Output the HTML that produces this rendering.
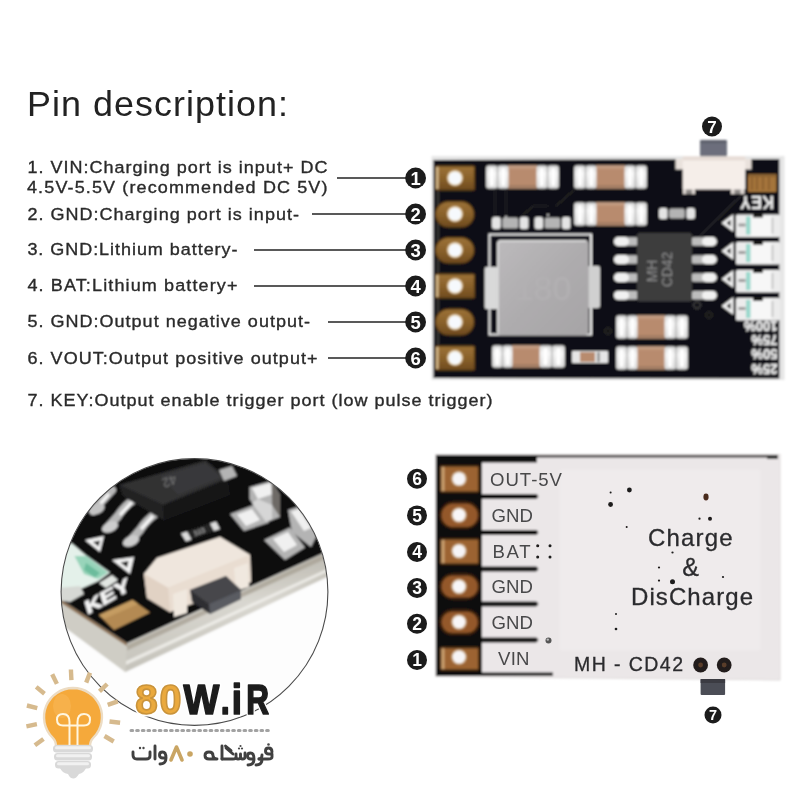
<!DOCTYPE html>
<html><head><meta charset="utf-8"><title>Pin description</title>
<style>
html,body{margin:0;padding:0;background:#fff;}
body{width:800px;height:800px;overflow:hidden;font-family:"Liberation Sans",sans-serif;}
svg{display:block;}
text{font-family:"Liberation Sans",sans-serif;}
</style></head><body>
<svg width="800" height="800" viewBox="0 0 800 800">
<defs>
<filter id="b1" x="-5%" y="-5%" width="110%" height="110%"><feGaussianBlur stdDeviation="0.85"/></filter>
<filter id="b05" x="-5%" y="-5%" width="110%" height="110%"><feGaussianBlur stdDeviation="0.45"/></filter>
<filter id="b2" x="-5%" y="-5%" width="110%" height="110%"><feGaussianBlur stdDeviation="1.4"/></filter>
<linearGradient id="gInd" x1="0" y1="0" x2="1" y2="1">
<stop offset="0" stop-color="#bcbabc"/><stop offset="0.5" stop-color="#aeacae"/><stop offset="1" stop-color="#a6a4a6"/>
</linearGradient>
<linearGradient id="gPad" x1="0" y1="0" x2="0" y2="1">
<stop offset="0" stop-color="#9c7238"/><stop offset="0.5" stop-color="#8a622b"/><stop offset="1" stop-color="#6f4a1f"/>
</linearGradient>
<linearGradient id="gSil" x1="0" y1="0" x2="0" y2="1">
<stop offset="0" stop-color="#d8d8d8"/><stop offset="0.35" stop-color="#f4f4f4"/><stop offset="1" stop-color="#dcdcdc"/>
</linearGradient>
</defs>
<rect width="800" height="800" fill="#fff"/>

<!-- TEXT -->
<g id="txt" fill="#2a2a2a" filter="url(#b05)">
<text transform="translate(27,116) scale(1.04,1)" font-size="34.5" textLength="251" lengthAdjust="spacing" fill="#222">Pin description:</text>
<g font-size="17" stroke="#2a2a2a" stroke-width="0.35">
<text transform="translate(27.4,173) scale(1.06,1)" textLength="283.1" lengthAdjust="spacing">1. VIN:Charging port is input+ DC</text>
<text transform="translate(27,193) scale(1.06,1)" textLength="283.5" lengthAdjust="spacing">4.5V-5.5V (recommended DC 5V)</text>
<text transform="translate(27.4,219.5) scale(1.06,1)" textLength="256.2" lengthAdjust="spacing">2. GND:Charging port is input-</text>
<text transform="translate(27.4,255) scale(1.06,1)" textLength="198.2" lengthAdjust="spacing">3. GND:Lithium battery-</text>
<text transform="translate(27.4,291) scale(1.06,1)" textLength="198.2" lengthAdjust="spacing">4. BAT:Lithium battery+</text>
<text transform="translate(27.4,327.3) scale(1.06,1)" textLength="266.6" lengthAdjust="spacing">5. GND:Output negative output-</text>
<text transform="translate(27.4,363.5) scale(1.06,1)" textLength="273.7" lengthAdjust="spacing">6. VOUT:Output positive output+</text>
<text transform="translate(27.4,405.8) scale(1.06,1)" textLength="438.8" lengthAdjust="spacing">7. KEY:Output enable trigger port (low pulse trigger)</text>
</g>
</g>

<!-- LEADER LINES -->
<g id="lines" stroke="#222" stroke-width="1.6" filter="url(#b05)">
<line x1="337" y1="178" x2="410" y2="178"/>
<line x1="312" y1="214" x2="410" y2="214"/>
<line x1="254" y1="250" x2="410" y2="250"/>
<line x1="254" y1="286" x2="410" y2="286"/>
<line x1="328" y1="322" x2="410" y2="322"/>
<line x1="328" y1="358" x2="410" y2="358"/>
</g>

<g id="nums1" filter="url(#b05)">
<circle cx="415.6" cy="178" r="10.4" fill="#1a1a1a"/><text x="415.6" y="184.7" font-size="18.5" font-weight="bold" fill="#fff" text-anchor="middle">1</text>
<circle cx="415.6" cy="214" r="10.4" fill="#1a1a1a"/><text x="415.6" y="220.7" font-size="18.5" font-weight="bold" fill="#fff" text-anchor="middle">2</text>
<circle cx="415.6" cy="250" r="10.4" fill="#1a1a1a"/><text x="415.6" y="256.7" font-size="18.5" font-weight="bold" fill="#fff" text-anchor="middle">3</text>
<circle cx="415.6" cy="286" r="10.4" fill="#1a1a1a"/><text x="415.6" y="292.7" font-size="18.5" font-weight="bold" fill="#fff" text-anchor="middle">4</text>
<circle cx="415.6" cy="322" r="10.4" fill="#1a1a1a"/><text x="415.6" y="328.7" font-size="18.5" font-weight="bold" fill="#fff" text-anchor="middle">5</text>
<circle cx="415.6" cy="358" r="10.4" fill="#1a1a1a"/><text x="415.6" y="364.7" font-size="18.5" font-weight="bold" fill="#fff" text-anchor="middle">6</text>
<circle cx="712" cy="126.5" r="10" fill="#1a1a1a"/><text x="712" y="132.6" font-size="17" font-weight="bold" fill="#fff" text-anchor="middle">7</text>
</g>

<g id="board1" filter="url(#b1)">
<rect x="431.5" y="156" width="353" height="224" fill="#e6e6e6"/>
<path d="M433.5 160 L779.3 159 V378.6 L433.5 378 Z" fill="#111114"/>
<g stroke="#2b2b2e" stroke-width="1.2" fill="none">
<path d="M495 189 V217 M506 189 V217"/>
<path d="M522 216 L533 206 H548 M556 206 L574 190"/>
<path d="M700 236 L745 192 M690 246 L736 200"/>
<path d="M438 190 V346" stroke="#55524c"/>
</g>
<g fill="none" stroke="#333" stroke-width="1"><circle cx="608" cy="331" r="3"/><circle cx="697" cy="305" r="3.5" stroke="#555"/><circle cx="709" cy="315" r="3"/></g>
<g fill="#bbb"><circle cx="506" cy="217" r="1.2"/><circle cx="548" cy="215" r="1.2"/><circle cx="603" cy="206" r="1"/></g>
<rect x="435.5" y="166" width="39" height="24" rx="1.5" fill="url(#gPad)" stroke="#5a3c18" stroke-width="1.4"/><rect x="436.0" y="167" width="2.6" height="22" fill="#cfb486"/><circle cx="455" cy="178" r="8" fill="#dcc092"/><circle cx="455" cy="178" r="6.6" fill="#f6f9fd"/>
<rect x="435.5" y="201.5" width="38.5" height="25.5" rx="12.75" fill="url(#gPad)" stroke="#5a3c18" stroke-width="1.4"/><circle cx="455" cy="214" r="8" fill="#dcc092"/><circle cx="455" cy="214" r="6.6" fill="#f6f9fd"/>
<rect x="435.5" y="237.5" width="38.5" height="25.5" rx="12.75" fill="url(#gPad)" stroke="#5a3c18" stroke-width="1.4"/><circle cx="455" cy="250" r="8" fill="#dcc092"/><circle cx="455" cy="250" r="6.6" fill="#f6f9fd"/>
<rect x="435.5" y="274" width="39" height="24" rx="1.5" fill="url(#gPad)" stroke="#5a3c18" stroke-width="1.4"/><rect x="436.0" y="275" width="2.6" height="22" fill="#cfb486"/><circle cx="455" cy="286" r="8" fill="#dcc092"/><circle cx="455" cy="286" r="6.6" fill="#f6f9fd"/>
<rect x="435.5" y="309" width="38.5" height="26" rx="13.0" fill="url(#gPad)" stroke="#5a3c18" stroke-width="1.4"/><circle cx="455" cy="322" r="8" fill="#dcc092"/><circle cx="455" cy="322" r="6.6" fill="#f6f9fd"/>
<rect x="435.5" y="346" width="39" height="24" rx="1.5" fill="url(#gPad)" stroke="#5a3c18" stroke-width="1.4"/><rect x="436.0" y="347" width="2.6" height="22" fill="#cfb486"/><circle cx="455" cy="357.8" r="8" fill="#dcc092"/><circle cx="455" cy="357.8" r="6.6" fill="#f6f9fd"/>
<g transform="translate(486,165)"><rect x="0" y="0.5" width="73" height="23" rx="2" fill="#9c9c9c"/><rect x="22" y="0.5" width="29" height="23" fill="#b88b6e"/><rect x="22" y="0.5" width="29" height="3" fill="#c39c82"/><rect x="22" y="20" width="29" height="3.5" fill="#a47e64"/><rect x="0.5" y="0.5" width="10.5" height="23" rx="3" fill="url(#gSil)"/><rect x="3.9" y="3" width="3.8" height="18" rx="1.5" fill="#fff"/><rect x="12.0" y="0.5" width="10.5" height="23" rx="3" fill="url(#gSil)"/><rect x="15.4" y="3" width="3.8" height="18" rx="1.5" fill="#fff"/><rect x="50.5" y="0.5" width="10.5" height="23" rx="3" fill="url(#gSil)"/><rect x="53.9" y="3" width="3.8" height="18" rx="1.5" fill="#fff"/><rect x="62.0" y="0.5" width="10.5" height="23" rx="3" fill="url(#gSil)"/><rect x="65.4" y="3" width="3.8" height="18" rx="1.5" fill="#fff"/></g>
<g transform="translate(574,165)"><rect x="0" y="0.5" width="73" height="23" rx="2" fill="#9c9c9c"/><rect x="22" y="0.5" width="29" height="23" fill="#b88b6e"/><rect x="22" y="0.5" width="29" height="3" fill="#c39c82"/><rect x="22" y="20" width="29" height="3.5" fill="#a47e64"/><rect x="0.5" y="0.5" width="10.5" height="23" rx="3" fill="url(#gSil)"/><rect x="3.9" y="3" width="3.8" height="18" rx="1.5" fill="#fff"/><rect x="12.0" y="0.5" width="10.5" height="23" rx="3" fill="url(#gSil)"/><rect x="15.4" y="3" width="3.8" height="18" rx="1.5" fill="#fff"/><rect x="50.5" y="0.5" width="10.5" height="23" rx="3" fill="url(#gSil)"/><rect x="53.9" y="3" width="3.8" height="18" rx="1.5" fill="#fff"/><rect x="62.0" y="0.5" width="10.5" height="23" rx="3" fill="url(#gSil)"/><rect x="65.4" y="3" width="3.8" height="18" rx="1.5" fill="#fff"/></g>
<g transform="translate(574,202)"><rect x="0" y="0.5" width="73" height="23" rx="2" fill="#9c9c9c"/><rect x="22" y="0.5" width="29" height="23" fill="#b88b6e"/><rect x="22" y="0.5" width="29" height="3" fill="#c39c82"/><rect x="22" y="20" width="29" height="3.5" fill="#a47e64"/><rect x="0.5" y="0.5" width="10.5" height="23" rx="3" fill="url(#gSil)"/><rect x="3.9" y="3" width="3.8" height="18" rx="1.5" fill="#fff"/><rect x="12.0" y="0.5" width="10.5" height="23" rx="3" fill="url(#gSil)"/><rect x="15.4" y="3" width="3.8" height="18" rx="1.5" fill="#fff"/><rect x="50.5" y="0.5" width="10.5" height="23" rx="3" fill="url(#gSil)"/><rect x="53.9" y="3" width="3.8" height="18" rx="1.5" fill="#fff"/><rect x="62.0" y="0.5" width="10.5" height="23" rx="3" fill="url(#gSil)"/><rect x="65.4" y="3" width="3.8" height="18" rx="1.5" fill="#fff"/></g>
<g transform="translate(616,315)"><rect x="0" y="0.5" width="72" height="23" rx="2" fill="#9c9c9c"/><rect x="21" y="0.5" width="28" height="23" fill="#b88b6e"/><rect x="21" y="0.5" width="28" height="3" fill="#c39c82"/><rect x="21" y="20" width="28" height="3.5" fill="#a47e64"/><rect x="0.5" y="0.5" width="10.0" height="23" rx="3" fill="url(#gSil)"/><rect x="3.7" y="3" width="3.6" height="18" rx="1.5" fill="#fff"/><rect x="11.5" y="0.5" width="10.0" height="23" rx="3" fill="url(#gSil)"/><rect x="14.7" y="3" width="3.6" height="18" rx="1.5" fill="#fff"/><rect x="48.5" y="0.5" width="11.0" height="23" rx="3" fill="url(#gSil)"/><rect x="52.0" y="3" width="4.0" height="18" rx="1.5" fill="#fff"/><rect x="60.5" y="0.5" width="11.0" height="23" rx="3" fill="url(#gSil)"/><rect x="64.0" y="3" width="4.0" height="18" rx="1.5" fill="#fff"/></g>
<g transform="translate(616,346)"><rect x="0" y="0.5" width="72" height="23" rx="2" fill="#9c9c9c"/><rect x="21" y="0.5" width="28" height="23" fill="#b88b6e"/><rect x="21" y="0.5" width="28" height="3" fill="#c39c82"/><rect x="21" y="20" width="28" height="3.5" fill="#a47e64"/><rect x="0.5" y="0.5" width="10.0" height="23" rx="3" fill="url(#gSil)"/><rect x="3.7" y="3" width="3.6" height="18" rx="1.5" fill="#fff"/><rect x="11.5" y="0.5" width="10.0" height="23" rx="3" fill="url(#gSil)"/><rect x="14.7" y="3" width="3.6" height="18" rx="1.5" fill="#fff"/><rect x="48.5" y="0.5" width="11.0" height="23" rx="3" fill="url(#gSil)"/><rect x="52.0" y="3" width="4.0" height="18" rx="1.5" fill="#fff"/><rect x="60.5" y="0.5" width="11.0" height="23" rx="3" fill="url(#gSil)"/><rect x="64.0" y="3" width="4.0" height="18" rx="1.5" fill="#fff"/></g>
<g transform="translate(492,345)"><rect x="0" y="0.5" width="73" height="22" rx="2" fill="#9c9c9c"/><rect x="20" y="0.5" width="28" height="22" fill="#b88b6e"/><rect x="20" y="0.5" width="28" height="3" fill="#c39c82"/><rect x="20" y="19" width="28" height="3.5" fill="#a47e64"/><rect x="0.5" y="0.5" width="9.5" height="22" rx="3" fill="url(#gSil)"/><rect x="3.5" y="3" width="3.4" height="17" rx="1.5" fill="#fff"/><rect x="11.0" y="0.5" width="9.5" height="22" rx="3" fill="url(#gSil)"/><rect x="14.0" y="3" width="3.4" height="17" rx="1.5" fill="#fff"/><rect x="47.5" y="0.5" width="12.0" height="22" rx="3" fill="url(#gSil)"/><rect x="51.3" y="3" width="4.3" height="17" rx="1.5" fill="#fff"/><rect x="60.5" y="0.5" width="12.0" height="22" rx="3" fill="url(#gSil)"/><rect x="64.3" y="3" width="4.3" height="17" rx="1.5" fill="#fff"/></g>
<rect x="489.5" y="234.5" width="101.5" height="100" fill="none" stroke="#f0f0f0" stroke-width="2"/>
<rect x="484.6" y="267" width="14" height="42" rx="2" fill="#d9d9d9"/>
<rect x="587" y="266" width="13" height="42" rx="2" fill="#d0d0d0"/>
<rect x="497" y="240" width="91.7" height="95" rx="4" fill="url(#gInd)"/><path d="M498 333 V244 Q498 241 501 241 H586" fill="none" stroke="#d6d6d6" stroke-width="2"/><text x="543" y="300" font-size="34" fill="#b2b0b2" text-anchor="middle">180</text>
<g>
<rect x="614" y="237.3" width="26" height="8.4" rx="4.2" fill="#bdbdbd"/><rect x="614" y="237.1" width="15" height="8.8" rx="4.4" fill="#f1f1f1"/>
<rect x="690" y="237.3" width="26.7" height="8.4" rx="4.2" fill="#bdbdbd"/><rect x="702" y="237.1" width="14.7" height="8.8" rx="4.4" fill="#f1f1f1"/>
<rect x="614" y="255.3" width="26" height="8.4" rx="4.2" fill="#bdbdbd"/><rect x="614" y="255.1" width="15" height="8.8" rx="4.4" fill="#f1f1f1"/>
<rect x="690" y="255.3" width="26.7" height="8.4" rx="4.2" fill="#bdbdbd"/><rect x="702" y="255.1" width="14.7" height="8.8" rx="4.4" fill="#f1f1f1"/>
<rect x="614" y="273.3" width="26" height="8.4" rx="4.2" fill="#bdbdbd"/><rect x="614" y="273.1" width="15" height="8.8" rx="4.4" fill="#f1f1f1"/>
<rect x="690" y="273.3" width="26.7" height="8.4" rx="4.2" fill="#bdbdbd"/><rect x="702" y="273.1" width="14.7" height="8.8" rx="4.4" fill="#f1f1f1"/>
<rect x="614" y="291.1" width="26" height="8.4" rx="4.2" fill="#bdbdbd"/><rect x="614" y="290.90000000000003" width="15" height="8.8" rx="4.4" fill="#f1f1f1"/>
<rect x="690" y="291.1" width="26.7" height="8.4" rx="4.2" fill="#bdbdbd"/><rect x="702" y="290.90000000000003" width="14.7" height="8.8" rx="4.4" fill="#f1f1f1"/>
</g>
<rect x="637" y="233" width="55" height="68.5" rx="2" fill="#3c3c3e"/>
<g fill="#8c8c8c" font-size="14.5" text-anchor="middle"><text transform="translate(657,271) rotate(-90)">MH</text><text transform="translate(671.8,269.5) rotate(-90)" textLength="35" lengthAdjust="spacingAndGlyphs">CD42</text></g>
<rect x="492" y="217" width="8.8" height="12" rx="2.5" fill="#e4e4e4"/><rect x="502.3" y="217.5" width="16.0" height="11" rx="2.5" fill="#b4b4b4"/><rect x="519.7" y="217" width="8.8" height="12" rx="2.5" fill="#e4e4e4"/>
<rect x="534.5" y="217" width="8.6" height="12" rx="2.5" fill="#e4e4e4"/><rect x="544.6" y="217.5" width="15.7" height="11" rx="2.5" fill="#b4b4b4"/><rect x="561.9" y="217" width="8.6" height="12" rx="2.5" fill="#e4e4e4"/>
<rect x="659" y="208" width="8.6" height="11" rx="2.5" fill="#e4e4e4"/><rect x="669.1" y="208.5" width="15.7" height="10" rx="2.5" fill="#b4b4b4"/><rect x="686.4" y="208" width="8.6" height="11" rx="2.5" fill="#e4e4e4"/>
<rect x="572" y="351" width="36" height="12" rx="1" fill="#e6e6e6"/><rect x="580" y="352" width="15" height="10" fill="#b88b6e"/><rect x="597" y="352" width="3" height="10" fill="#999"/>
<rect x="700" y="140" width="27" height="18" rx="1.5" fill="#6c6e7b"/>
<rect x="700" y="140" width="27" height="3" rx="1.5" fill="#5c5e6a"/>
<rect x="675.5" y="159" width="9" height="10.5" fill="#e9e1dc"/><rect x="744" y="159" width="7.5" height="10.5" fill="#e9e1dc"/>
<rect x="683" y="185" width="12" height="9" fill="#ddd6d2"/><rect x="731" y="185" width="13.5" height="9" fill="#ddd6d2"/>
<rect x="686" y="189" width="6" height="5" fill="#8a8684"/><rect x="734.5" y="189" width="6" height="5" fill="#8a8684"/>
<rect x="682.7" y="156.5" width="62.6" height="33" rx="1" fill="#f5eee9"/>
<rect x="682.7" y="156.5" width="62.6" height="4" fill="#e7ddd7"/>
<rect x="748" y="174" width="28.5" height="18" rx="1" fill="#a4753a"/>
<g stroke="#7d5526" stroke-width="1.2"><path d="M752 176 V190 M757 176 V190 M763 176 V190 M769 176 V190"/></g>
<rect x="748" y="174" width="28.5" height="3" fill="#8a6230"/>
<text transform="translate(757,202) rotate(180)" x="0" y="0" font-size="18" font-weight="bold" fill="#f4f4f4" text-anchor="middle" textLength="34" lengthAdjust="spacingAndGlyphs" dominant-baseline="auto" dy="6.5">KEY</text>
<rect x="736" y="214.5" width="44" height="22.5" rx="1.5" fill="#ececec"/>
<rect x="750.5" y="215.5" width="21" height="20.5" fill="#f7f7f7"/>
<rect x="746" y="216.5" width="4.5" height="18" fill="#9ad8cc"/>
<rect x="738.5" y="223.5" width="7" height="3" fill="#9a9a9a"/>
<rect x="771.5" y="217.5" width="2" height="16" fill="#c8c8c8"/>
<rect x="753" y="213.5" width="10" height="4" fill="#151515"/>
<path d="M721.5 223 L733.5 214 V232 Z" fill="#f2f2f2"/>
<path d="M726.5 223 L730.5 219.8 V226.2 Z" fill="#111"/>
<rect x="736" y="242" width="44" height="22.5" rx="1.5" fill="#ececec"/>
<rect x="750.5" y="243" width="21" height="20.5" fill="#f7f7f7"/>
<rect x="746" y="244" width="4.5" height="18" fill="#9ad8cc"/>
<rect x="738.5" y="251" width="7" height="3" fill="#9a9a9a"/>
<rect x="771.5" y="245" width="2" height="16" fill="#c8c8c8"/>
<rect x="753" y="241" width="10" height="4" fill="#151515"/>
<path d="M721.5 251 L733.5 242 V260 Z" fill="#f2f2f2"/>
<path d="M726.5 251 L730.5 247.8 V254.2 Z" fill="#111"/>
<rect x="736" y="270" width="44" height="22.5" rx="1.5" fill="#ececec"/>
<rect x="750.5" y="271" width="21" height="20.5" fill="#f7f7f7"/>
<rect x="746" y="272" width="4.5" height="18" fill="#9ad8cc"/>
<rect x="738.5" y="279" width="7" height="3" fill="#9a9a9a"/>
<rect x="771.5" y="273" width="2" height="16" fill="#c8c8c8"/>
<rect x="753" y="269" width="10" height="4" fill="#151515"/>
<path d="M721.5 279 L733.5 270 V288 Z" fill="#f2f2f2"/>
<path d="M726.5 279 L730.5 275.8 V282.2 Z" fill="#111"/>
<rect x="736" y="298" width="44" height="22.5" rx="1.5" fill="#ececec"/>
<rect x="750.5" y="299" width="21" height="20.5" fill="#f7f7f7"/>
<rect x="746" y="300" width="4.5" height="18" fill="#9ad8cc"/>
<rect x="738.5" y="307" width="7" height="3" fill="#9a9a9a"/>
<rect x="771.5" y="301" width="2" height="16" fill="#c8c8c8"/>
<rect x="753" y="297" width="10" height="4" fill="#151515"/>
<path d="M721.5 306 L733.5 297 V315 Z" fill="#f2f2f2"/>
<path d="M726.5 306 L730.5 302.8 V309.2 Z" fill="#111"/>
<text transform="translate(777.5,326) rotate(180)" font-size="14" font-weight="bold" fill="#f0f0f0" stroke="#f0f0f0" stroke-width="0.5" text-anchor="start" dy="5" textLength="33.5" lengthAdjust="spacingAndGlyphs">100%</text>
<text transform="translate(777.5,340) rotate(180)" font-size="14" font-weight="bold" fill="#f0f0f0" stroke="#f0f0f0" stroke-width="0.5" text-anchor="start" dy="5" textLength="26" lengthAdjust="spacingAndGlyphs">75%</text>
<text transform="translate(777.5,354) rotate(180)" font-size="14" font-weight="bold" fill="#f0f0f0" stroke="#f0f0f0" stroke-width="0.5" text-anchor="start" dy="5" textLength="26" lengthAdjust="spacingAndGlyphs">50%</text>
<text transform="translate(777.5,368.5) rotate(180)" font-size="14" font-weight="bold" fill="#f0f0f0" stroke="#f0f0f0" stroke-width="0.5" text-anchor="start" dy="5" textLength="26" lengthAdjust="spacingAndGlyphs">25%</text>
</g>

<g id="board2" filter="url(#b1)">
<path d="M435 454 H780.5 V680.5 L435 677 Z" fill="#dedada"/>
<path d="M436 455 H779.5 V679.5 L436 676 Z" fill="#ebe7e8"/>
<rect x="560" y="470" width="200" height="180" fill="#efebec"/>
<rect x="436" y="455" width="342" height="2.5" fill="#3a3838"/>
<rect x="767" y="455" width="11" height="4" fill="#222"/>
<path d="M436 455 H537 V462.5 H482 V672.5 H553 V676 H436 Z" fill="#0d0c0c"/>
<path d="M481 494 H536 Q539 495 538 497.5 L536 499 H481 Z" fill="#0d0c0c"/>
<path d="M481 530 H536 Q539 531 538 533.5 L536 535 H481 Z" fill="#0d0c0c"/>
<path d="M481 566.5 H536 Q539 567.5 538 570.0 L536 571.5 H481 Z" fill="#0d0c0c"/>
<path d="M481 601.5 H536 Q539 602.5 538 605.0 L536 606.5 H481 Z" fill="#0d0c0c"/>
<path d="M481 637.5 H536 Q539 638.5 538 641.0 L536 642.5 H481 Z" fill="#0d0c0c"/>
<rect x="440.5" y="466" width="38.3" height="26" rx="1.5" fill="#9c6330" stroke="#4a2d14" stroke-width="1.8"/><rect x="441.5" y="467" width="3" height="24" fill="#c9a070"/><circle cx="459" cy="478.7" r="7.8" fill="#c9a67c"/><circle cx="459" cy="478.7" r="6.3" fill="#f6f4f6"/>
<rect x="440.5" y="502.5" width="38.3" height="25.5" rx="12.75" fill="#94592a" stroke="#3e2410" stroke-width="2.4"/><circle cx="459" cy="515" r="7.8" fill="#c9a67c"/><circle cx="459" cy="515" r="6.3" fill="#f8f6f8"/>
<rect x="440.5" y="539" width="38.3" height="25" rx="1.5" fill="#9c6330" stroke="#4a2d14" stroke-width="1.8"/><rect x="441.5" y="540" width="3" height="23" fill="#c9a070"/><circle cx="459" cy="551" r="7.8" fill="#c9a67c"/><circle cx="459" cy="551" r="6.3" fill="#f6f4f6"/>
<rect x="440.5" y="574.5" width="38.3" height="24" rx="12.0" fill="#94592a" stroke="#3e2410" stroke-width="2.4"/><circle cx="459" cy="586.5" r="7.8" fill="#c9a67c"/><circle cx="459" cy="586.5" r="6.3" fill="#f8f6f8"/>
<rect x="440.5" y="610.5" width="38.3" height="23.5" rx="11.75" fill="#94592a" stroke="#3e2410" stroke-width="2.4"/><circle cx="459" cy="622" r="7.8" fill="#c9a67c"/><circle cx="459" cy="622" r="6.3" fill="#f8f6f8"/>
<rect x="440.5" y="647.5" width="38.3" height="22.5" rx="1.5" fill="#9c6330" stroke="#4a2d14" stroke-width="1.8"/><rect x="441.5" y="648.5" width="3" height="20.5" fill="#c9a070"/><circle cx="459" cy="657" r="7.8" fill="#c9a67c"/><circle cx="459" cy="657" r="6.3" fill="#f6f4f6"/>
</g><g id="board2t" filter="url(#b05)">
<g fill="#48484a" font-size="18.6">
<text x="490" y="486" textLength="72" lengthAdjust="spacing">OUT-5V</text>
<text x="491.5" y="521.5" textLength="41.5" lengthAdjust="spacing">GND</text>
<text x="492.5" y="557.5" textLength="38" lengthAdjust="spacing">BAT</text>
<text x="491.5" y="593.3" textLength="41.5" lengthAdjust="spacing">GND</text>
<text x="491.5" y="628.8" textLength="41.5" lengthAdjust="spacing">GND</text>
<text x="498" y="664.6" textLength="31.5" lengthAdjust="spacing">VIN</text>
</g>
<g fill="#2c2c2e" stroke="#2c2c2e" stroke-width="0.3">
<text x="648" y="545.5" font-size="24" textLength="84.5" lengthAdjust="spacing">Charge</text>
<text x="690.5" y="576" font-size="25" text-anchor="middle">&amp;</text>
<text x="631" y="605" font-size="24" textLength="122" lengthAdjust="spacing">DisCharge</text>
<text x="574" y="670.6" font-size="19.5" textLength="109" lengthAdjust="spacing">MH - CD42</text>
</g>
<g fill="#1c1a1a">
<circle cx="629.4" cy="490" r="2.4"/>
<circle cx="610.6" cy="504.5" r="2.4"/>
<circle cx="610.6" cy="492.5" r="1"/>
<circle cx="710" cy="518.7" r="2"/>
<circle cx="699.5" cy="518.7" r="1.1"/>
<circle cx="672.5" cy="581.7" r="2.5"/>
<circle cx="659" cy="580.6" r="1.1"/>
<circle cx="659" cy="567.5" r="1.1"/>
<circle cx="672.5" cy="552.5" r="1.1"/>
<circle cx="723" cy="577" r="1.1"/>
<circle cx="616" cy="614" r="1"/>
<circle cx="616" cy="629" r="1.3"/>
<circle cx="626.7" cy="527" r="1"/>
<circle cx="537.7" cy="545.8" r="1.5"/>
<circle cx="550" cy="545.8" r="1.5"/>
<circle cx="537.7" cy="557" r="1.5"/>
<circle cx="550" cy="557" r="1.5"/>
</g>
<ellipse cx="706" cy="497" rx="2.6" ry="3.4" fill="#4a2c1e"/>
<circle cx="548.5" cy="640.5" r="3" fill="#555"/><circle cx="547.8" cy="639.6" r="1.2" fill="#bbb"/>
<circle cx="700.6" cy="665" r="7.4" fill="#221d1b"/><circle cx="700.6" cy="665" r="2.4" fill="#5a3e2a"/>
<circle cx="724.2" cy="665" r="7.4" fill="#221d1b"/><circle cx="724.2" cy="665" r="2.4" fill="#5a3e2a"/>
<rect x="700.6" y="679" width="24.5" height="16" rx="1" fill="#4c4e57"/>
<rect x="700.6" y="679" width="24.5" height="4" fill="#3a3b42"/>
</g>
<g id="nums2" filter="url(#b05)">
<circle cx="417" cy="478.7" r="10" fill="#1a1a1a"/><text x="417" y="485.0" font-size="17.5" font-weight="bold" fill="#fff" text-anchor="middle">6</text>
<circle cx="417" cy="515.4" r="10" fill="#1a1a1a"/><text x="417" y="521.7" font-size="17.5" font-weight="bold" fill="#fff" text-anchor="middle">5</text>
<circle cx="417" cy="552" r="10" fill="#1a1a1a"/><text x="417" y="558.3" font-size="17.5" font-weight="bold" fill="#fff" text-anchor="middle">4</text>
<circle cx="417" cy="588" r="10" fill="#1a1a1a"/><text x="417" y="594.3" font-size="17.5" font-weight="bold" fill="#fff" text-anchor="middle">3</text>
<circle cx="417" cy="623.7" r="10" fill="#1a1a1a"/><text x="417" y="630.0" font-size="17.5" font-weight="bold" fill="#fff" text-anchor="middle">2</text>
<circle cx="417" cy="660" r="10" fill="#1a1a1a"/><text x="417" y="666.3" font-size="17.5" font-weight="bold" fill="#fff" text-anchor="middle">1</text>
<circle cx="713" cy="715" r="8.5" fill="#1a1a1a"/><text x="713" y="720.2" font-size="14.5" font-weight="bold" fill="#fff" text-anchor="middle">7</text>
</g>

<defs><clipPath id="cc"><circle cx="194.5" cy="592" r="133.2"/></clipPath>
<linearGradient id="gBand" x1="0" y1="0" x2="0" y2="1"><stop offset="0" stop-color="#b9b6ad"/><stop offset="0.45" stop-color="#d9d7d0"/><stop offset="1" stop-color="#c4c2ba"/></linearGradient>
<linearGradient id="gSw" x1="0" y1="0" x2="1" y2="1"><stop offset="0" stop-color="#efe6dc"/><stop offset="1" stop-color="#e2d4c6"/></linearGradient>
</defs>
<g id="photo" clip-path="url(#cc)"><g filter="url(#b1)">
<rect x="50" y="450" width="290" height="290" fill="#fdfdfd"/>
<path d="M40 440 H340 V545.5 L127 643.5 L40 586 Z" fill="#0e0e10"/>
<path d="M40 586 L127 643.5 L340 545.5 V571 L125.5 672 L40 609 Z" fill="url(#gBand)"/>
<path d="M40 586 L127 643.5 L125.5 672 L40 609 Z" fill="#cfcdc5"/><path d="M40 586 L127 643.5 L127 646 L40 589 Z" fill="#8a6a4a"/>
<path d="M127 645 L340 547 V552 L127 650.5 Z" fill="#a9a396" opacity="0.8"/>
<path d="M126 661 L340 563 V566 L126 665 Z" fill="#f1f0ec" opacity="0.8"/>
<path d="M58 552 L71.5 543 L85 554.5 L110 572.5 L98.5 581 L76 591 L58 588 Z" fill="#e4f1ea"/>
<path d="M74.5 556 L86 556 L108 572.5 L98 579 L84 574 Z" fill="#98d4ba"/>
<path d="M86 563 L100 573 L95 577.5 L84 570 Z" fill="#6cbc9c"/>
<path d="M58 588 L80 586 L84 594 L70 602 L58 600 Z" fill="#d6d8d4"/>
<path d="M99 583 L112 575 L118 580 L106 588 Z" fill="#e2e6e2"/>
<g stroke="#b8b8b8" stroke-width="8" stroke-linecap="round" fill="none">
<path d="M136 498 Q124 506 118 516 L109 526"/><path d="M158 512 Q146 520 140 530 L131 540"/><path d="M112 490 L100 503 L93 511"/>
</g>
<g stroke="#f6f6f6" stroke-width="3.2" stroke-linecap="round" fill="none">
<path d="M131 503 L121 514"/><path d="M152 517 L142 528"/><path d="M108 495 L101 503"/><path d="M113 525 L107 529"/><path d="M134 539 L128 543"/>
</g>
<ellipse cx="110" cy="527" rx="8.5" ry="5" transform="rotate(-25 110 527)" fill="#cdcdcd"/><ellipse cx="131" cy="541" rx="8.5" ry="5" transform="rotate(-25 131 541)" fill="#cdcdcd"/>
<ellipse cx="97" cy="509" rx="8" ry="5" transform="rotate(-25 97 509)" fill="#c4c4c4"/>
<path d="M119 485 L205.5 460.6 L227.5 478.5 L230 495 L164 520.5 L123 496 Z" fill="#161618"/>
<path d="M119 485 L163 505 L164 520.5 L123 496 Z" fill="#222224"/>
<path d="M119 485 L205.5 460.6 L227.5 478.5 L163 505 Z" fill="#303032"/>
<path d="M160 476 L205 463 L222 477.5 L178 495 Z" fill="#38383a"/>
<text transform="translate(168,477) rotate(160)" font-size="13" fill="#777" text-anchor="middle">42</text>
<g fill="#b4b4b4">
<path d="M219 470 L232 466 L237 476 L224 481 Z"/>
<path d="M249.5 487 L271.5 481 L280 495 L280 517 L266 522.5 L249.5 499 Z"/>
<path d="M230 514 L255 504.6 L269 522.5 L244 531 Z"/>
<path d="M264 540 L290 527.5 L305 547.5 L285 560 Z"/>
<path d="M288 510 L300 506 L318 533 L311 547 L292 532 Z"/>
</g>
<g fill="#f0f0f0">
<path d="M252 488 L270 483 L276 493 L258 499 Z"/>
<path d="M237 514.5 L252 509 L260 520 L246 526 Z"/>
<path d="M273 539 L288 532 L297 545 L284 552 Z"/>
<path d="M291 511.5 L299 509 L311 528 L304 531 Z"/>
</g>
<path d="M271.5 482 L280 495 L280 517 L272 505 Z" fill="#6e6a66"/>
<path d="M258 499 L272 505 L272 519 L266 522 L252 503 Z" fill="#d6d6d6"/>
<path d="M186 531.5 L210 523.5 L214 531 L191 539.5 Z" fill="#262626"/>
<path d="M181 533.5 L187 531.5 L191.5 539.5 L186 541.5 Z" fill="#ddd"/><path d="M210 523.5 L216 521.5 L220 529 L214 531 Z" fill="#ddd"/>
<text transform="translate(200,534) rotate(-19)" font-size="7" fill="#ccc" text-anchor="middle">103</text>
<g fill="#f4f4f4"><path d="M85 540 L104 536 L100 552 Z"/><path d="M112 560 L134 557 L130 574 Z"/></g>
<g fill="#111"><path d="M93 542 L100 540.5 L98.5 546.5 Z"/><path d="M120.5 562.5 L128.5 561 L127 567.5 Z"/></g>
<text transform="translate(87.5,614.5) rotate(-30) skewX(-12)" font-size="17.5" font-weight="bold" fill="#f3f3f3" stroke="#f3f3f3" stroke-width="0.9" textLength="50" lengthAdjust="spacingAndGlyphs">KEY</text>
<path d="M99 615 L132.5 600 L150 612.5 L114 630 Z" fill="#b48a52"/>
<path d="M99 615 L132.5 600 L138 604 L104 619 Z" fill="#c59c62"/>
<path d="M147 598 L170 612 L251 582 L250 555 L220 537 L157 558 L144 574 Z" fill="#d9cabb"/>
<path d="M157 558 L220 537 L250 555 L168 588 L144 574 Z" fill="#efe6dd"/>
<path d="M144 574 L168 588 L170 612 L147 598 Z" fill="#e1d2c4"/>
<path d="M168 588 L250 555 L251 582 L170 612 Z" fill="#e9ddd1"/>
<path d="M173 594 L187 589 L187 613 L174 617 Z" fill="#f0e8df"/>
<path d="M234 568 L248 563 L249 587 L236 591 Z" fill="#f0e8df"/>
<path d="M190 590 L226 576 L241 590 L241 599 L210 614 L192 602 Z" fill="#2f2f33"/>
<path d="M190 590 L226 576 L241 590 L209 604 Z" fill="#47474b"/>
<path d="M209 604 L241 590 L241 599 L210 614 Z" fill="#5a5c62"/>
</g></g>
<circle cx="194.5" cy="592" r="133.4" fill="none" stroke="#4a4a4a" stroke-width="1.1" filter="url(#b05)"/>
<g id="logo" filter="url(#b05)">
<g stroke="#d6ba8e" stroke-width="4.4" stroke-linecap="butt">
<line x1="71.4" y1="680.2" x2="70.9" y2="669.5"/>
<line x1="56.9" y1="683.9" x2="52.2" y2="674.3"/>
<line x1="44.5" y1="693.7" x2="36.2" y2="686.9"/>
<line x1="37.3" y1="708.1" x2="26.9" y2="705.5"/>
<line x1="36.9" y1="724.2" x2="26.4" y2="726.3"/>
<line x1="43.5" y1="738.9" x2="34.9" y2="745.3"/>
<line x1="86.2" y1="682.6" x2="90.0" y2="672.7"/>
<line x1="99.5" y1="691.4" x2="107.2" y2="684.0"/>
<line x1="107.7" y1="704.8" x2="117.8" y2="701.3"/>
<line x1="109.5" y1="721.5" x2="120.1" y2="722.8"/>
<line x1="104.5" y1="736.0" x2="113.7" y2="741.5"/>
</g>
<path d="M73 688 A29 29 0 0 1 93.5 737.5 Q90 741 90 746 H56 Q56 741 52.5 737.5 A29 29 0 0 1 73 688 Z" fill="#f5a93b" stroke="#ecdcc4" stroke-width="2.4"/>
<ellipse cx="62" cy="706" rx="9" ry="12" fill="#f8b552" opacity="0.7"/>
<path d="M69.5 746 V722 Q69.5 714 63 714 Q57 714 57 719.5 Q57 725.5 63 725.5 H84 Q90 725.5 90 719.5 Q90 714 84 714 Q77.5 714 77.5 722 V746" fill="none" stroke="#fff6e0" stroke-width="2" stroke-linejoin="round"/>
<g fill="#d9d9d9"><rect x="53" y="745" width="40" height="7.5" rx="3.5"/><rect x="54" y="753" width="38" height="7.5" rx="3.5"/><rect x="55" y="761" width="36" height="7.5" rx="3.5"/><path d="M60 768 H86 Q84 773 79 774 Q76 778.5 73.5 778.5 Q70 778.5 68 774 Q62 773 60 768 Z"/></g>
<g fill="#f1f1f1"><rect x="55" y="746.2" width="36" height="3" rx="1.5"/><rect x="56" y="754.2" width="34" height="3" rx="1.5"/><rect x="57" y="762.2" width="32" height="3" rx="1.5"/></g>
<text x="135.2" y="713.8" font-size="43" font-weight="bold" textLength="22.5" lengthAdjust="spacingAndGlyphs" fill="#fff" stroke="#fff" stroke-width="5" stroke-linejoin="round">8</text>
<text x="159.6" y="713.8" font-size="43" font-weight="bold" textLength="22" lengthAdjust="spacingAndGlyphs" fill="#fff" stroke="#fff" stroke-width="5" stroke-linejoin="round">0</text>
<text x="183.5" y="713.8" font-size="43" font-weight="bold" textLength="35.8" lengthAdjust="spacingAndGlyphs" fill="#fff" stroke="#fff" stroke-width="5" stroke-linejoin="round">W</text>
<text x="220.8" y="713.8" font-size="43" font-weight="bold" textLength="9" lengthAdjust="spacingAndGlyphs" fill="#fff" stroke="#fff" stroke-width="5" stroke-linejoin="round">.</text>
<text x="231.8" y="713.8" font-size="43" font-weight="bold" textLength="10.2" lengthAdjust="spacingAndGlyphs" fill="#fff" stroke="#fff" stroke-width="5" stroke-linejoin="round">i</text>
<text x="246.3" y="713.8" font-size="43" font-weight="bold" textLength="22.8" lengthAdjust="spacingAndGlyphs" fill="#fff" stroke="#fff" stroke-width="5" stroke-linejoin="round">R</text>
<text x="135.2" y="713.8" font-size="43" font-weight="bold" textLength="22.5" lengthAdjust="spacingAndGlyphs" fill="#eaa93e" stroke="#c9933a" stroke-width="1.7" stroke-linejoin="round">8</text>
<text x="159.6" y="713.8" font-size="43" font-weight="bold" textLength="22" lengthAdjust="spacingAndGlyphs" fill="#eaa93e" stroke="#c9933a" stroke-width="1.7" stroke-linejoin="round">0</text>
<text x="183.5" y="713.8" font-size="43" font-weight="bold" textLength="35.8" lengthAdjust="spacingAndGlyphs" fill="#1e1e1e" stroke="#1e1e1e" stroke-width="1.7" stroke-linejoin="round">W</text>
<text x="220.8" y="713.8" font-size="43" font-weight="bold" textLength="9" lengthAdjust="spacingAndGlyphs" fill="#1e1e1e" stroke="#1e1e1e" stroke-width="1.7" stroke-linejoin="round">.</text>
<text x="231.8" y="713.8" font-size="43" font-weight="bold" textLength="10.2" lengthAdjust="spacingAndGlyphs" fill="#1e1e1e" stroke="#1e1e1e" stroke-width="1.7" stroke-linejoin="round">i</text>
<text x="246.3" y="713.8" font-size="43" font-weight="bold" textLength="22.8" lengthAdjust="spacingAndGlyphs" fill="#1e1e1e" stroke="#1e1e1e" stroke-width="1.7" stroke-linejoin="round">R</text>
<line x1="131" y1="730.5" x2="272" y2="730.5" stroke="#a2a2a2" stroke-width="3" stroke-dasharray="1.7 3.95" stroke-linecap="round"/>
<g fill="none" stroke="#404040" stroke-width="2.9" stroke-linecap="round" stroke-linejoin="round">
<path d="M272 752 Q272 748 268.5 748 Q265.5 748 265.5 751 Q265.5 754 269 754 H272 V757 Q272 759 268 759 H259"/>
<path d="M259 759 Q262 759 262 755 M262 759 Q262 765 256 765"/>
<path d="M254 759 Q254 753 250.5 753 Q247.5 753 247.5 756 Q247.5 759 251 759 H254 Q254 765 248 765"/>
<path d="M245 753 V757 Q245 759 242.5 759 Q240.5 759 240.5 756 V754 M240.5 757 Q240.5 759 238 759 Q236 759 236 756 V754 M236 757 Q236 759 233 759 H222"/>
<path d="M233 754 L226 748 M231 750.5 L225.5 746"/>
<path d="M222 759 V746"/>
<path d="M217 759 H209 Q205 759 205 755.5 Q205 752 209 752 Q213 752 213 755.5 Q213 759 217 759"/>
</g>
<g fill="#484848"><circle cx="268.5" cy="744.5" r="1.3"/><circle cx="239" cy="748.5" r="1.1"/><circle cx="242" cy="748.5" r="1.1"/><circle cx="240.5" cy="746" r="1.1"/></g>
<path d="M171 760 L176.5 747 L182 760" fill="none" stroke="#c9a564" stroke-width="3.6" stroke-linejoin="round" stroke-linecap="round"/>
<circle cx="190" cy="754" r="2.8" fill="#c9a564"/>
<g fill="none" stroke="#404040" stroke-width="2.9" stroke-linecap="round" stroke-linejoin="round">
<path d="M166 758 Q166 752 162.5 752 Q159.5 752 159.5 755 Q159.5 758 163 758 H166 Q166 764 160 764"/>
<path d="M155 759 V746"/>
<path d="M150 752 V756 Q150 759 146 759 H137 Q133 759 133 755 V752"/>
</g>
<g fill="#484848"><circle cx="140" cy="748" r="1.2"/><circle cx="143.5" cy="748" r="1.2"/></g>
</g>

</svg>
</body></html>
